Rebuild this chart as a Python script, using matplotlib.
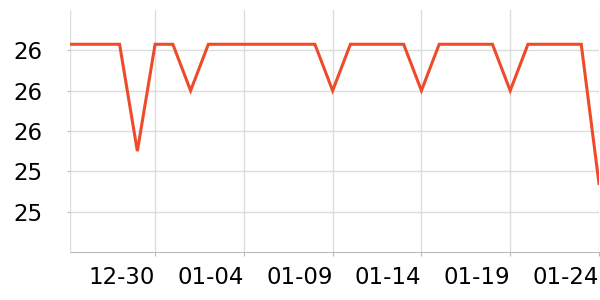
import datetime as dt

import matplotlib
matplotlib.use("Agg")
import matplotlib.pyplot as plt
import matplotlib.dates as mdates
from matplotlib.ticker import FormatStrFormatter

# daily values, 12-25 .. 01-24
start = dt.datetime(2023, 12, 25)
values = [26.03, 26.03, 26.03, 26.03, 25.5, 26.03, 26.03, 25.8,
          26.03, 26.03, 26.03, 26.03, 26.03, 26.03, 26.03, 25.8,
          26.03, 26.03, 26.03, 26.03, 25.8,
          26.03, 26.03, 26.03, 26.03, 25.8,
          26.03, 26.03, 26.03, 26.03, 25.34]
dates = [start + dt.timedelta(days=i) for i in range(len(values))]
y_ticks = [25.2, 25.4, 25.6, 25.8, 26.0]

plt.rcParams['font.family'] = ['DejaVu Sans']

fig = plt.figure(figsize=(6, 3), dpi=100)
ax = fig.add_axes([0.1167, 0.16, 0.8816, 0.8067])

ax.plot(dates, values, color='#EE4B2B', linewidth=2.2, solid_joinstyle='miter')

ax.set_xlim(start + dt.timedelta(hours=5), dt.datetime(2024, 1, 24))
ax.set_ylim(25.0, 26.2)

ax.xaxis.set_major_locator(mdates.DayLocator(bymonthday=[4, 9, 14, 19, 24, 30]))
ax.xaxis.set_major_formatter(mdates.DateFormatter('%m-%d'))
ax.set_yticks(y_ticks)
ax.yaxis.set_major_formatter(FormatStrFormatter('%.0f'))

ax.grid(True, color='#DDDDDD', linewidth=1)
ax.set_axisbelow(True)
for side in ['top', 'right', 'left']:
    ax.spines[side].set_visible(False)
ax.spines['bottom'].set_color('#BBBBBB')
ax.axvline(ax.get_xlim()[0], color='#DDDDDD', linewidth=1, zorder=0)

ax.tick_params(axis='x', length=3, color='#BBBBBB', pad=7, labelsize=16.5)
ax.tick_params(axis='y', length=2, color='#BBBBBB', pad=18, labelsize=16.5)
for lbl in ax.get_xticklabels():
    lbl.set_horizontalalignment('right')

fig.savefig('out.png', dpi=100)
